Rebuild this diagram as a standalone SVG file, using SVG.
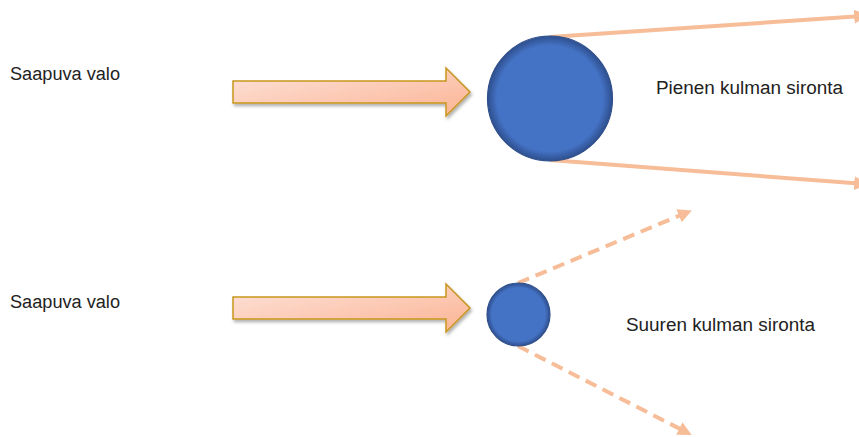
<svg xmlns="http://www.w3.org/2000/svg" width="859" height="437" viewBox="0 0 859 437">
<style>
.lbl{font-family:"Liberation Sans",Arial,sans-serif;font-size:18px;fill:#222}
.arr{fill:url(#ag);stroke:#c8961e;stroke-width:1.5}
.ball{fill:url(#bg);stroke:#2f4f8a;stroke-width:1.2}
.ray{stroke:#f6bd98;stroke-width:4;fill:none}
.dash{stroke:#f6bd98;stroke-width:4;fill:none;stroke-dasharray:12 7}
</style>
<defs>
<linearGradient id="ag" x1="0" y1="0" x2="1" y2="1">
<stop offset="0" stop-color="#fde3da"/>
<stop offset="1" stop-color="#fbb393"/>
</linearGradient>
<radialGradient id="bg" cx="0.5" cy="0.5" r="0.5">
<stop offset="0.85" stop-color="#4472c4"/>
<stop offset="1" stop-color="#2e4f8e"/>
</radialGradient>
<filter id="sh" x="-10%" y="-20%" width="130%" height="160%">
<feDropShadow dx="1.5" dy="2.5" stdDeviation="1.5" flood-color="#000" flood-opacity="0.3"/>
</filter>
<marker id="mh" viewBox="0 0 10 10" refX="7" refY="5" markerWidth="3.5" markerHeight="3.5" orient="auto" markerUnits="strokeWidth">
<path d="M0,0 L10,5 L0,10 z" fill="#f6bd98"/>
</marker>
</defs>
<g id="connectors">
<line class="ray" x1="550" y1="37" x2="864" y2="16" marker-end="url(#mh)"/>
<line class="ray" x1="550" y1="160" x2="864" y2="184" marker-end="url(#mh)"/>
<line class="dash" x1="518" y1="283" x2="688" y2="212" marker-end="url(#mh)"/>
<line class="dash" x1="518" y1="346" x2="688" y2="433" marker-end="url(#mh)"/>
</g>
<g id="label-in-1"><text class="lbl" x="10" y="80" textLength="110" lengthAdjust="spacingAndGlyphs">Saapuva valo</text></g>
<g id="label-in-2"><text class="lbl" x="10" y="308" textLength="110" lengthAdjust="spacingAndGlyphs">Saapuva valo</text></g>
<g id="arrow-1"><path class="arr" filter="url(#sh)" d="M233,81 H446 V68 L470,92 L446,116 V103 H233 Z"/></g>
<g id="arrow-2"><path class="arr" filter="url(#sh)" d="M233,297 H446 V284 L470,308 L446,332 V319 H233 Z"/></g>
<g id="particle-large"><circle class="ball" cx="550" cy="98.5" r="62.5"/></g>
<g id="particle-small"><circle class="ball" cx="518.5" cy="314.5" r="31.5"/></g>
<g id="label-small-angle"><text class="lbl" x="656" y="94" textLength="187" lengthAdjust="spacingAndGlyphs">Pienen kulman sironta</text></g>
<g id="label-large-angle"><text class="lbl" x="626" y="331" textLength="189" lengthAdjust="spacingAndGlyphs">Suuren kulman sironta</text></g>
</svg>
